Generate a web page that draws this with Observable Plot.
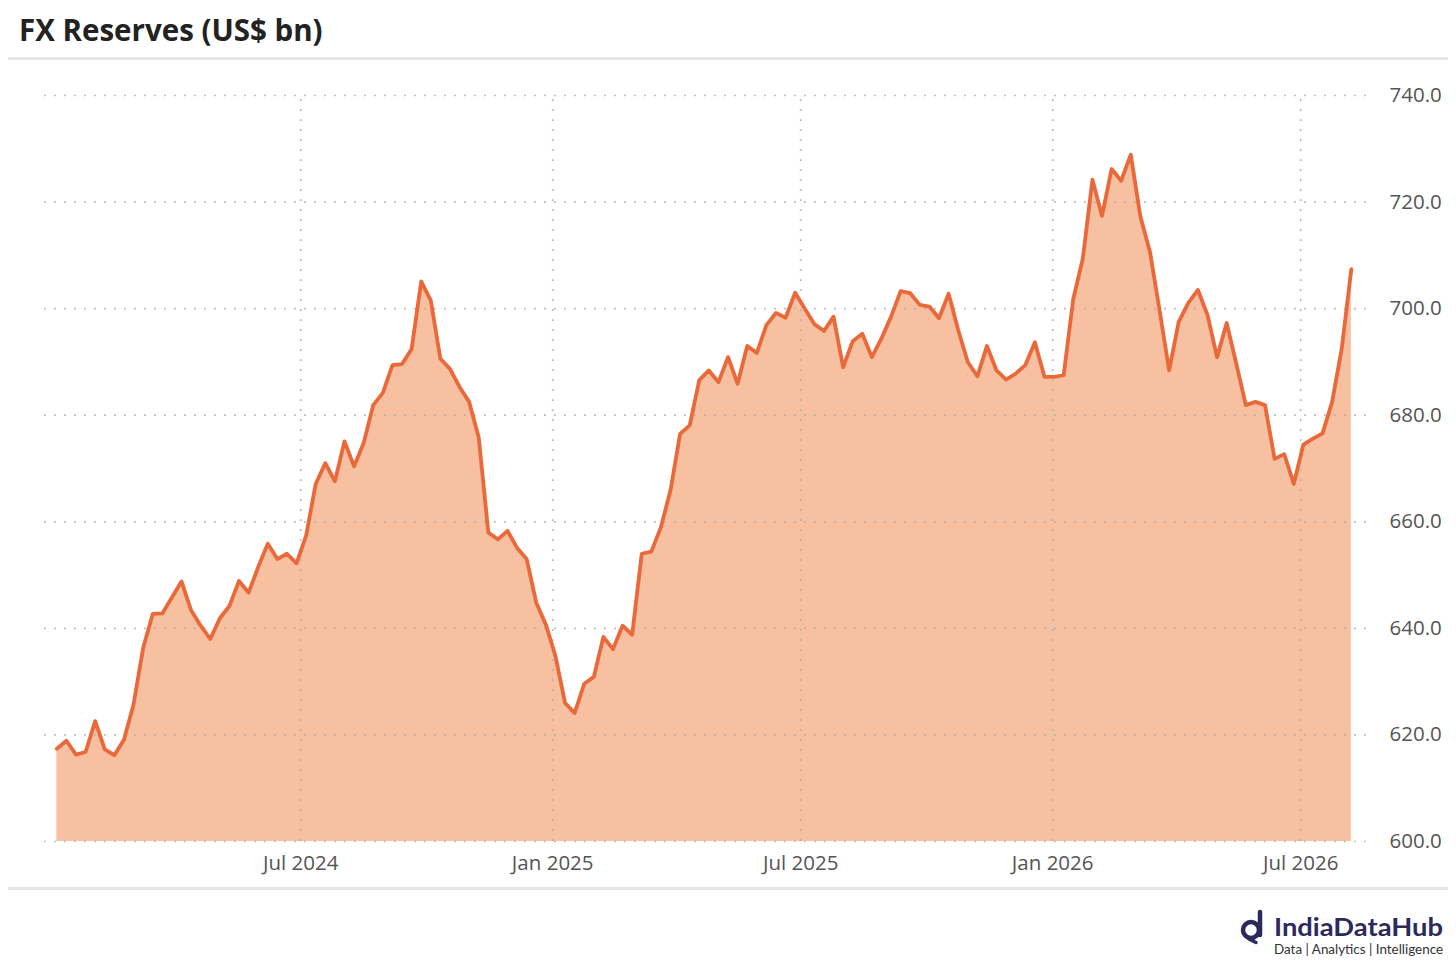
<!DOCTYPE html>
<html>
<head>
<meta charset="utf-8">
<script src="https://cdn.jsdelivr.net/npm/d3@7"></script>
<script src="https://cdn.jsdelivr.net/npm/@observablehq/plot@0.6"></script>
<style>
  html, body { margin: 0; padding: 0; background: #fff; }
  #page { position: relative; width: 1456px; height: 969px; overflow: hidden; background: #fff; }
  #title { position: absolute; left: 19px; top: 15px; font-family: "Open Sans", sans-serif; font-weight: 700;
           font-size: 29.5px; line-height: 1; color: #222; letter-spacing: 0px; white-space: nowrap; }
  .sep { position: absolute; left: 8px; width: 1440px; height: 3px; background: #e6e6e6; }
  #chart { position: absolute; left: 0; top: 60px; }
  #logo { position: absolute; left: 1230px; top: 900px; }
</style>
</head>
<body>
<div id="page">
  <div id="title">FX Reserves (US$ bn)</div>
  <div class="sep" style="top:57px"></div>
  <div id="chart"></div>
  <div class="sep" style="top:887px"></div>
  <svg id="logo" width="226" height="69" viewBox="1230 900 226 69">
    <g fill="none" stroke="#2c2a5c" stroke-linecap="round">
      <circle cx="1251" cy="930" r="8" stroke-width="4.5"/>
      <line x1="1260" y1="912" x2="1260" y2="935" stroke-width="4.5"/>
      <line x1="1249" y1="939" x2="1256" y2="942.5" stroke-width="3.5"/>
    </g>
    <text x="1274" y="936" font-family="Lato, 'Open Sans', sans-serif" font-weight="700" font-size="25"
          fill="#2c2a5c" textLength="169" lengthAdjust="spacingAndGlyphs">IndiaDataHub</text>
    <text x="1274" y="953.5" font-family="Lato, 'Open Sans', sans-serif" font-size="12.5"
          fill="#333" textLength="169" lengthAdjust="spacingAndGlyphs">Data | Analytics | Intelligence</text>
  </svg>
</div>
<script>
// ---- data (weekly, from the week of 5 Jan 2024) ----
const startDate = "2024-01-05";
const reserves = [
  617.4, 618.9, 616.3, 616.8, 622.6, 617.3, 616.2, 619.1, 625.7, 636.3,
  642.7, 642.8, 645.8, 648.8, 643.4, 640.5, 638.0, 641.9, 644.2, 648.9,
  646.7, 651.5, 655.9, 653.0, 654.0, 652.2, 657.4, 667.1, 671.0, 667.6,
  675.1, 670.4, 674.8, 681.9, 684.2, 689.4, 689.6, 692.4, 705.1, 701.5,
  690.6, 688.7, 685.3, 682.5, 675.8, 658.0, 656.7, 658.3, 655.1, 653.0,
  644.8, 640.7, 634.8, 626.0, 624.1, 629.6, 630.9, 638.4, 636.1, 640.5,
  638.8, 654.0, 654.4, 659.0, 665.9, 676.5, 678.1, 686.6, 688.4, 686.2,
  690.9, 685.9, 693.0, 691.7, 696.9, 699.2, 698.3, 703.0, 700.0, 697.1,
  695.8, 698.5, 689.0, 693.9, 695.3, 690.9, 694.4, 698.5, 703.3, 702.9,
  700.7, 700.4, 698.2, 702.8, 696.0, 690.0, 687.3, 693.0, 688.4, 686.7,
  687.8, 689.4, 693.7, 687.2, 687.2, 687.5, 701.8, 709.4, 724.2, 717.4,
  726.2, 724.0, 728.9, 717.3, 710.7, 699.7, 688.4, 697.5, 701.1, 703.5,
  698.8, 690.9, 697.3, 689.7, 681.9, 682.5, 681.9, 671.8, 672.7, 667.1,
  674.5, 675.6, 676.6, 682.5, 692.5, 707.4
];
const xTickDates = ["2024-07-01", "2025-01-01", "2025-07-01", "2026-01-01", "2026-07-01"];
const xTickLabels = ["Jul 2024", "Jan 2025", "Jul 2025", "Jan 2026", "Jul 2026"];
const yTicks = [600, 620, 640, 660, 680, 700, 720, 740];
const xDomain = ["2023-12-27", "2026-08-21"];
const yDomain = [600, 740];

// ---- build table ----
const start = new Date(startDate);
const data = reserves.map((v, i) => ({ date: d3.utcDay.offset(start, 7 * i), value: v }));
const tickDates = xTickDates.map(d => new Date(d));
const labelOf = new Map(tickDates.map((d, i) => [+d, xTickLabels[i]]));

const dotted = { stroke: "#a8a8a8", strokeWidth: 1.7, strokeDasharray: "1.7,8.3", strokeOpacity: 0.85 };

const chart = Plot.plot({
  width: 1456,
  height: 825,
  marginLeft: 44,
  marginRight: 86,
  marginTop: 35,
  marginBottom: 44,
  style: { fontFamily: "'Open Sans', sans-serif", fontSize: "20.5px", color: "#555", background: "transparent" },
  x: { type: "utc", domain: xDomain.map(d => new Date(d)), axis: null },
  y: { domain: yDomain, axis: null },
  marks: [
    Plot.areaY(data, { x: "date", y1: 600, y2: "value", fill: "#f7c1a1" }),
    Plot.ruleY(yTicks, { y: d => d, ...dotted }),
    Plot.ruleX(tickDates, { x: d => d, y1: 600, y2: 740, ...dotted }),
    Plot.line(data, { x: "date", y: "value", stroke: "#e9693b", strokeWidth: 3.8, strokeLinejoin: "round", strokeLinecap: "round" }),
    Plot.axisY({ anchor: "right", ticks: yTicks, tickFormat: d3.format(".1f"), tickSize: 0, tickPadding: 19, fill: "#555", label: null }),
    Plot.axisX({ anchor: "bottom", ticks: tickDates, tickFormat: d => labelOf.get(+d), tickSize: 0, tickPadding: 14, fill: "#555", label: null })
  ]
});
document.getElementById("chart").appendChild(chart);
</script>
</body>
</html>
